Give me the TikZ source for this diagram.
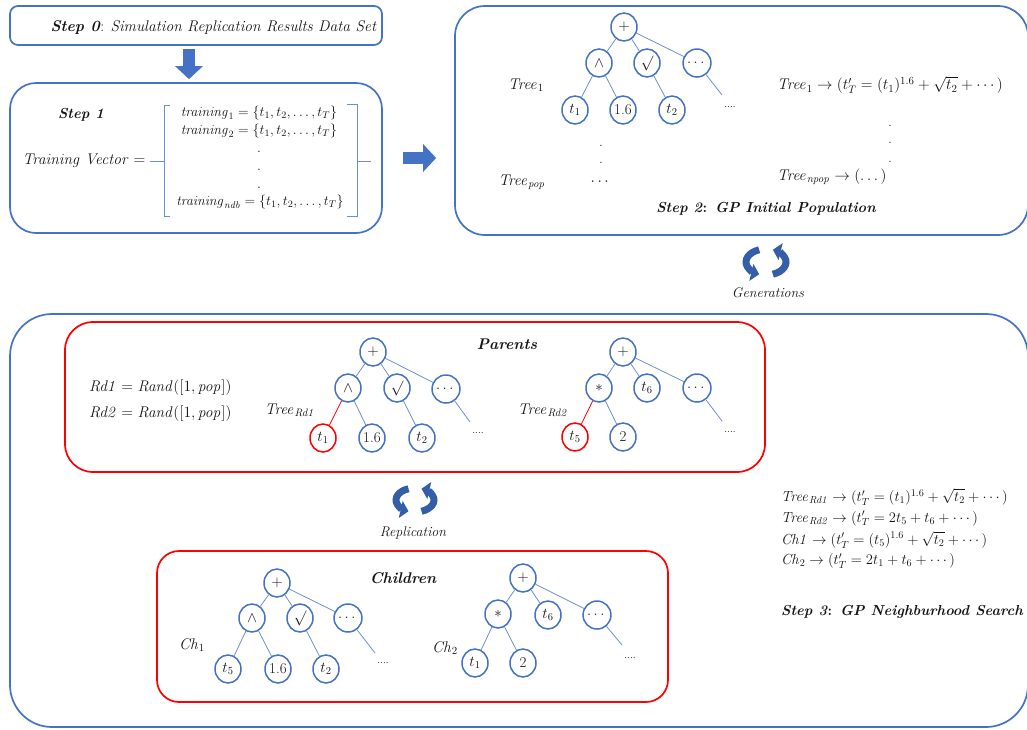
\RequirePackage{fix-cm}
\documentclass[tikz,border=0pt]{standalone}
\usepackage{amsmath}
\usetikzlibrary{shapes.geometric,arrows.meta}
\definecolor{boxblue}{HTML}{4472C4}
\definecolor{edgeblue}{HTML}{6E8FCF}
\definecolor{iconblue}{HTML}{345EA8}
\definecolor{redline}{HTML}{FF0000}
\definecolor{ink}{HTML}{151515}
\begin{document}
\begin{tikzpicture}[x=1pt,y=-1pt,
  panel/.style={draw=boxblue,line width=1.7pt,inner sep=0pt},
  redpanel/.style={draw=redline,line width=1.7pt,inner sep=0pt},
  tn/.style={ellipse,draw=boxblue,line width=1.5pt,minimum width=26pt,minimum height=28pt,inner sep=0pt,text=ink,font=\fontsize{15}{15}\selectfont},
  rn/.style={tn,draw=redline},
  ed/.style={draw=edgeblue,line width=0.8pt},
  redge/.style={draw=redline,line width=0.8pt},
  brk/.style={draw=edgeblue,line width=0.9pt},
  txt/.style={font=\fontsize{15.5}{18}\selectfont,inner sep=0pt,text=ink},
  eqtxt/.style={font=\fontsize{14.6}{17}\selectfont,inner sep=0pt,text=ink},
  vectxt/.style={font=\fontsize{14}{16}\selectfont,inner sep=0pt,text=ink},
  ttl/.style={font=\fontsize{14.5}{17}\selectfont\bfseries\itshape,inner sep=0pt,text=ink},
  bigttl/.style={font=\fontsize{15.5}{18}\selectfont\bfseries\itshape,inner sep=0pt,text=ink},
  captxt/.style={font=\fontsize{14}{16}\selectfont\itshape,inner sep=0pt,text=ink},
  moretxt/.style={font=\fontsize{10}{10}\selectfont,inner sep=0pt,text=ink},
  cyc/.style={draw=iconblue,line width=7pt,-{Triangle[length=8pt,width=17pt]}},
  blockarrow/.style={draw=boxblue,line width=12pt,-{Triangle[length=13pt,width=27pt]}}]
\useasboundingbox (0,0) rectangle (1027,729);
\clip (0,0) rectangle (1027,729);

% ---------- Step 0 ----------
\node[panel,rounded corners=8pt,minimum width=372pt,minimum height=39pt] (s0) at (196,25.5) {};
\node[txt,anchor=east] (s0t) at (377,28) {\textbf{\textit{Step 0}}: \textit{Simulation Replication Results Data Set}};

% ---------- Step 1 ----------
\node[panel,rounded corners=26pt,minimum width=372pt,minimum height=150pt] (s1) at (196,158) {};
\node[ttl] (s1t) at (81,115) {Step 1};
\node[txt] (tv) at (84,161) {$\mathit{Training\ Vector} =$};
\draw[brk] (170,105) -- (164,105) -- (164,216) -- (170,216);
\draw[brk] (150,161) -- (164,161);
\draw[brk] (347,104) -- (357,104) -- (357,216) -- (347,216);
\draw[brk] (357,161) -- (371,161);
\node[vectxt] (tr1) at (259,113) {$\mathit{training}_1 = \{t_1, t_2, \dots, t_T\}$};
\node[vectxt] (tr2) at (259,131) {$\mathit{training}_2 = \{t_1, t_2, \dots, t_T\}$};
\node[vectxt] (trd1) at (259,152) {.};
\node[vectxt] (trd2) at (259,170) {.};
\node[vectxt] (trd3) at (259,188) {.};
\node[vectxt] (trn) at (260,202) {$\mathit{training}_{\mathit{ndb}} = \{t_1, t_2, \dots, t_T\}$};

% ---------- Step 2 ----------
\node[panel,rounded corners=30pt,minimum width=573pt,minimum height=229pt] (s2) at (741.5,120.5) {};

\draw[blockarrow,shorten <=3pt,shorten >=3pt] ([xshift=-7pt]s0.south) -- ([xshift=-7pt]s1.north);
\draw[blockarrow,shorten <=20pt,shorten >=18pt] (s1.east) -- (s1.east -| s2.west);

\node[tn] (a0) at (624,27) {$+$};
\node[tn] (a1) at (599,63) {$\wedge$};
\node[tn] (a2) at (647,63) {$\surd$};
\node[tn] (a3) at (697,63) {$\dots$};
\node[tn] (a4) at (575,110) {$t_1$};
\node[tn] (a5) at (623,110) {1.6};
\node[tn] (a6) at (672,110) {$t_2$};
\coordinate (a7) at (722,95);
\node[moretxt] (a8) at (730,107) {....};
\draw[ed] (a0) -- (a1); \draw[ed] (a0) -- (a2); \draw[ed] (a0) -- (a3);
\draw[ed] (a1) -- (a4); \draw[ed] (a1) -- (a5); \draw[ed] (a2) -- (a6);
\draw[ed] (a3) -- (a7);
\node[txt] (at1) at (526,85) {$\mathit{Tree}_1$};
\node[txt] (atp) at (522,182) {$\mathit{Tree}_{\mathit{pop}}$};
\node[txt] (ad1) at (601,146) {.};
\node[txt] (ad2) at (601,163) {.};
\node[txt] (ad3) at (601,182) {$\cdots$};
\node[txt,anchor=west] (af1) at (777,85) {$\mathit{Tree}_1 \rightarrow (t'_T = (t_1)^{1.6} + \sqrt{\smash[b]{t_2}} + \cdots)$};
\node[txt] (afd1) at (890,126) {.};
\node[txt] (afd2) at (890,143) {.};
\node[txt] (afd3) at (890,162) {.};
\node[txt,anchor=west] (af2) at (777,177) {$\mathit{Tree}_{\mathit{npop}} \rightarrow (\dots)$};
\node[ttl] (s2t) at (766,209) {Step 2\textup{:} GP Initial Population};

% ---------- Generations icon ----------
\begin{scope}[shift={(766,262)}]
  \draw[cyc] (250:20 and 13) arc[start angle=250,end angle=110,x radius=20,y radius=13];
  \draw[cyc] (70:20 and 13) arc[start angle=70,end angle=-70,x radius=20,y radius=13];
\end{scope}
\node[captxt] (gen) at (768,293) {Generations};

% ---------- Step 3 ----------
\node[panel,rounded corners=42pt,minimum width=1018pt,minimum height=413pt] (s3) at (519,520.5) {};

% Parents
\node[redpanel,rounded corners=28pt,minimum width=700pt,minimum height=150pt] (pb) at (415,397) {};
\node[bigttl] (pt) at (507,344) {Parents};
\node[txt,anchor=west] (rd1) at (89,388) {$\mathit{Rd1} = \mathit{Rand}([1, \mathit{pop}])$};
\node[txt,anchor=west] (rd2) at (89,414) {$\mathit{Rd2} = \mathit{Rand}([1, \mathit{pop}])$};

\node[tn] (p0) at (373,352) {$+$};
\node[tn] (p1) at (348,388) {$\wedge$};
\node[tn] (p2) at (397,388) {$\surd$};
\node[tn] (p3) at (446,389) {$\dots$};
\node[rn] (p4) at (323,438) {$t_1$};
\node[tn] (p5) at (372,438) {1.6};
\node[tn] (p6) at (422,438) {$t_2$};
\coordinate (p7) at (470,422);
\node[moretxt] (p8) at (478,433) {....};
\draw[ed] (p0) -- (p1); \draw[ed] (p0) -- (p2); \draw[ed] (p0) -- (p3);
\draw[redge] (p1) -- (p4); \draw[ed] (p1) -- (p5); \draw[ed] (p2) -- (p6);
\draw[ed] (p3) -- (p7);
\node[txt] (ptr1) at (290,410) {$\mathit{Tree}_{\mathit{Rd1}}$};

\node[tn] (q0) at (623,352) {$+$};
\node[tn] (q1) at (599,388) {$*$};
\node[tn] (q2) at (647,388) {$t_6$};
\node[tn] (q3) at (697,388) {$\dots$};
\node[rn] (q4) at (575,437) {$t_5$};
\node[tn] (q5) at (623,437) {2};
\coordinate (q7) at (722,421);
\node[moretxt] (q8) at (730,432) {....};
\draw[ed] (q0) -- (q1); \draw[ed] (q0) -- (q2); \draw[ed] (q0) -- (q3);
\draw[redge] (q1) -- (q4); \draw[ed] (q1) -- (q5);
\draw[ed] (q3) -- (q7);
\node[txt] (ptr2) at (543,410) {$\mathit{Tree}_{\mathit{Rd2}}$};

% ---------- Replication icon ----------
\begin{scope}[shift={(415,500)}]
  \draw[cyc] (250:19 and 12) arc[start angle=250,end angle=110,x radius=19,y radius=12];
  \draw[cyc] (70:19 and 12) arc[start angle=70,end angle=-70,x radius=19,y radius=12];
\end{scope}
\node[captxt] (rep) at (413,533) {Replication};

% Children
\node[redpanel,rounded corners=22pt,minimum width=511pt,minimum height=151pt] (cb) at (412.5,626.5) {};
\node[bigttl] (ct) at (403,578) {Children};

\node[tn] (c0) at (277,583) {$+$};
\node[tn] (c1) at (252,618) {$\wedge$};
\node[tn] (c2) at (300,618) {$\surd$};
\node[tn] (c3) at (348,618) {$\dots$};
\node[tn] (c4) at (228,669) {$t_5$};
\node[tn] (c5) at (278,669) {1.6};
\node[tn] (c6) at (326,669) {$t_2$};
\coordinate (c7) at (375,653);
\node[moretxt] (c8) at (383,663) {....};
\draw[ed] (c0) -- (c1); \draw[ed] (c0) -- (c2); \draw[ed] (c0) -- (c3);
\draw[ed] (c1) -- (c4); \draw[ed] (c1) -- (c5); \draw[ed] (c2) -- (c6);
\draw[ed] (c3) -- (c7);
\node[txt] (cl1) at (192,645) {$\mathit{Ch}_1$};

\node[tn] (d0) at (523,578) {$+$};
\node[tn] (d1) at (498,614) {$*$};
\node[tn] (d2) at (548,615) {$t_6$};
\node[tn] (d3) at (597,615) {$\dots$};
\node[tn] (d4) at (475,663) {$t_1$};
\node[tn] (d5) at (523,663) {2};
\coordinate (d7) at (622,645);
\node[moretxt] (d8) at (630,658) {....};
\draw[ed] (d0) -- (d1); \draw[ed] (d0) -- (d2); \draw[ed] (d0) -- (d3);
\draw[ed] (d1) -- (d4); \draw[ed] (d1) -- (d5);
\draw[ed] (d3) -- (d7);
\node[txt] (cl2) at (445,648) {$\mathit{Ch}_2$};

% Resulting expressions
\node[eqtxt,anchor=west] (e1) at (781,497) {$\mathit{Tree}_{\mathit{Rd1}} \rightarrow (t'_T = (t_1)^{1.6} + \sqrt{\smash[b]{t_2}} + \cdots)$};
\node[eqtxt,anchor=west] (e2) at (781,518.5) {$\mathit{Tree}_{\mathit{Rd2}} \rightarrow (t'_T = 2t_5 + t_6 + \cdots)$};
\node[eqtxt,anchor=west] (e3) at (781,539.5) {$\mathit{Ch1} \rightarrow (t'_T = (t_5)^{1.6} + \sqrt{\smash[b]{t_2}} + \cdots)$};
\node[eqtxt,anchor=west] (e4) at (781,561) {$\mathit{Ch}_2 \rightarrow (t'_T = 2t_1 + t_6 + \cdots)$};
\node[ttl,anchor=west] (s3t) at (781,612) {Step 3\textup{:} GP Neighburhood Search};
\end{tikzpicture}
\end{document}
